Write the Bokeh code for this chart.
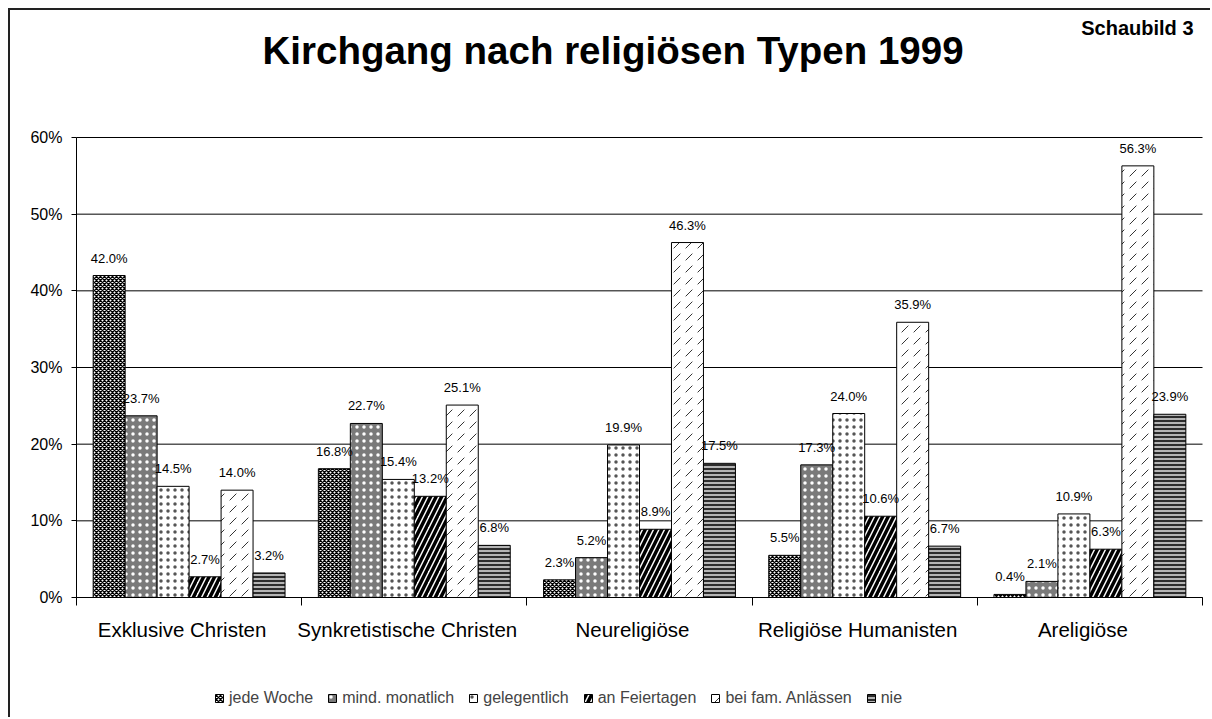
from bokeh.plotting import figure
from bokeh.models import (ColumnDataSource, FixedTicker, PrintfTickFormatter, LabelSet,
                          Label, Legend, LegendItem, Range1d)
from bokeh.core.properties import value
from bokeh.embed import file_html
from bokeh.resources import INLINE

categories = ["Exklusive Christen", "Synkretistische Christen", "Neureligiöse",
              "Religiöse Humanisten", "Areligiöse"]
series = ["jede Woche", "mind. monatlich", "gelegentlich", "an Feiertagen",
          "bei fam. Anlässen", "nie"]
jede_woche = [42.0, 16.8, 2.3, 5.5, 0.4]
mind_monatlich = [23.7, 22.7, 5.2, 17.3, 2.1]
gelegentlich = [14.5, 15.4, 19.9, 24.0, 10.9]
an_feiertagen = [2.7, 13.2, 8.9, 10.6, 6.3]
bei_fam_anlaessen = [14.0, 25.1, 46.3, 35.9, 56.3]
nie = [3.2, 6.8, 17.5, 6.7, 23.9]
y_ticks = [0, 10, 20, 30, 40, 50, 60]
title_text = "Kirchgang nach religiösen Typen 1999"
badge_text = "Schaubild 3"

data = [jede_woche, mind_monatlich, gelegentlich, an_feiertagen, bei_fam_anlaessen, nie]
FONT = "Liberation Sans"

styles = [
    dict(fill_color="white", hatch_pattern="diagonal_cross", hatch_color="black", hatch_scale=4, hatch_weight=1.4),
    dict(fill_color="#7a7a7a", hatch_pattern="dot", hatch_color="white", hatch_scale=7, hatch_weight=0.6),
    dict(fill_color="white", hatch_pattern="dot", hatch_color="#555555", hatch_scale=7, hatch_weight=0.5),
    dict(fill_color="white", hatch_pattern="right_diagonal_line", hatch_color="black", hatch_scale=11, hatch_weight=3.5),
    dict(fill_color="white", hatch_pattern="right_diagonal_dash", hatch_color="#333333", hatch_scale=12, hatch_weight=1),
    dict(fill_color="#b5b5b5", hatch_pattern="horizontal_line", hatch_color="black", hatch_scale=4, hatch_weight=1.5),
]

n = len(categories)
w = 0.142
y_max = y_ticks[-1]

# canvas geometry (pixels) -> plot area of the value axes
W, H = 1202, 709
PX_LEFT, PX_RIGHT = 66, 1192      # x = 0 and x = n
PX_TOP, PX_BOTTOM = 127, 587      # y = y_max and y = 0 (from top)
sx = (PX_RIGHT - PX_LEFT) / n
sy = (PX_BOTTOM - PX_TOP) / y_max
x_range = Range1d(-PX_LEFT / sx, n + (W - PX_RIGHT) / sx)
y_range = Range1d(-(H - PX_BOTTOM) / sy, y_max + PX_TOP / sy)

p = figure(width=W, height=H, output_backend="svg", toolbar_location=None,
           x_range=x_range, y_range=y_range, min_border=0,
           min_border_left=0, min_border_right=0, min_border_top=0, min_border_bottom=0)
p.styles = {"margin": "8px 0 0 8px", "border-left": "2px solid #222", "border-top": "2px solid #222"}
p.outline_line_color = None
p.background_fill_color = "white"
p.border_fill_color = "white"
p.xgrid.visible = False
p.ygrid.visible = False

# horizontal grid lines
gsrc = ColumnDataSource(dict(x0=[0] * len(y_ticks), x1=[n] * len(y_ticks), y=y_ticks))
p.segment(x0="x0", x1="x1", y0="y", y1="y", source=gsrc, line_color="black", line_width=1)

# x axis: labels near centres, ticks at boundaries (minor ticks)
label_shift = 7 / sx
centers = [i + 0.5 - label_shift for i in range(n)]
bounds = [float(i) for i in range(n + 1)]
xa = p.xaxis[0]
xa.fixed_location = 0
xa.bounds = (0, n)
xa.ticker = FixedTicker(ticks=centers, minor_ticks=bounds)
xa.major_label_overrides = {c: cat for c, cat in zip(centers, categories)}
xa.major_tick_out = 0
xa.major_tick_in = 0
xa.minor_tick_out = 8
xa.minor_tick_in = 0
xa.minor_tick_line_color = "black"
xa.axis_line_color = "black"
xa.major_label_text_font = FONT
xa.major_label_text_font_size = "20.5px"
xa.major_label_text_color = "black"
xa.major_label_standoff = 12

ya = p.yaxis[0]
ya.fixed_location = 0
ya.bounds = (0, y_max)
ya.ticker = FixedTicker(ticks=y_ticks)
ya.formatter = PrintfTickFormatter(format="%d%%")
ya.major_tick_out = 5
ya.major_tick_in = 0
ya.minor_tick_line_color = None
ya.axis_line_color = "black"
ya.major_tick_line_color = "black"
ya.major_label_text_font = FONT
ya.major_label_text_font_size = "16px"
ya.major_label_text_color = "black"
ya.major_label_standoff = 9

items = []
for j, (name, vals) in enumerate(zip(series, data)):
    xs = [i + 0.5 + (j - 2.5) * w for i in range(n)]
    src = ColumnDataSource(dict(x=xs, top=vals, label=[f"{v:.1f}%" for v in vals]))
    r = p.vbar(x="x", top="top", width=w, source=src, line_color="black", line_width=1, **styles[j])
    p.add_layout(LabelSet(x="x", y="top", text="label", source=src, y_offset=13,
                          text_align="center", text_baseline="alphabetic",
                          text_font=value(FONT), text_font_size="13px", text_color="black"))
    items.append(LegendItem(label=name, renderers=[r]))

legend = Legend(items=items, orientation="horizontal", location=(204, 12),
                glyph_width=10, glyph_height=10, label_text_font=FONT,
                label_text_font_size="16px", label_standoff=5, spacing=14,
                padding=0, margin=0, border_line_color=None, background_fill_alpha=0)
p.add_layout(legend, "center")

p.add_layout(Label(x=252, y=669, x_units="screen", y_units="screen", text=title_text,
                   text_align="left", text_baseline="alphabetic", text_font=FONT,
                   text_font_size="38.5px", text_font_style="bold", text_color="black"))
p.add_layout(Label(x=1183, y=692, x_units="screen", y_units="screen", text=badge_text,
                   text_align="right", text_baseline="alphabetic", text_font=FONT,
                   text_font_size="20px", text_font_style="bold", text_color="black"))

open("out.html", "w").write(file_html(p, INLINE))
